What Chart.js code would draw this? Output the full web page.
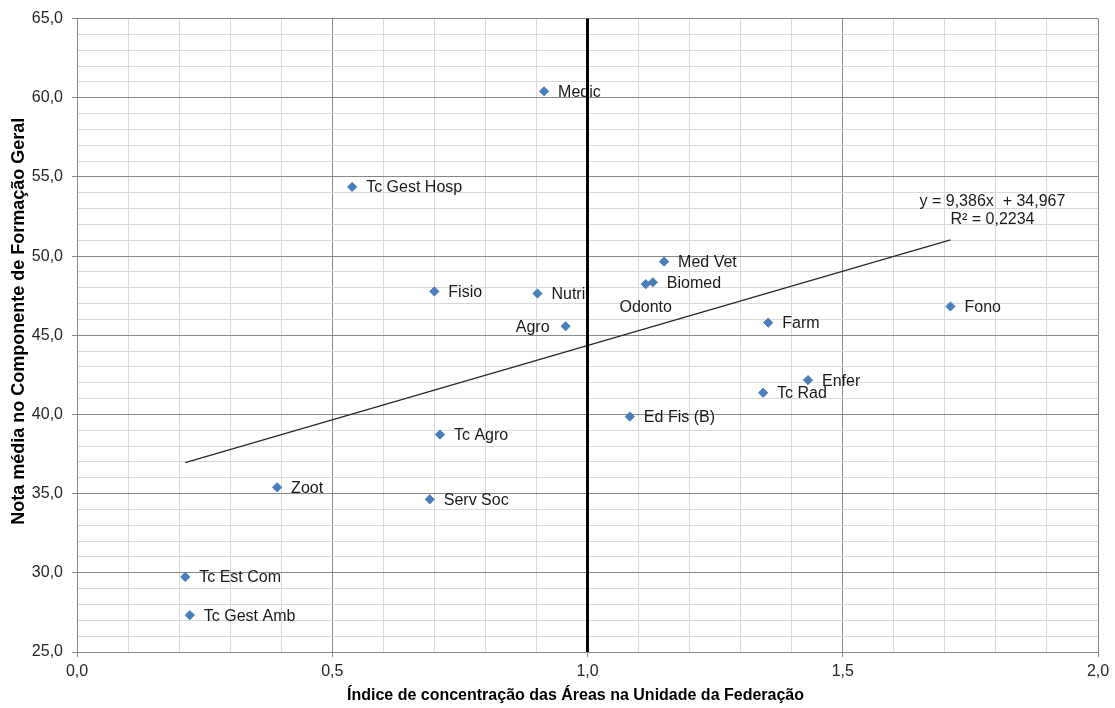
<!DOCTYPE html>
<html>
<head>
<meta charset="utf-8">
<script src="https://cdn.jsdelivr.net/npm/chart.js@4.4.1/dist/chart.umd.min.js"></script>
<style>
  html, body { margin: 0; padding: 0; background: #ffffff; }
  #wrap { width: 1115px; height: 708px; }
</style>
</head>
<body>
<div id="wrap"><canvas id="chart" width="1115" height="708"></canvas></div>
<script>
// Áreas avaliadas: índice de concentração na UF x nota média em Formação Geral
const areas = ['Medic', 'Tc Gest Hosp', 'Med Vet', 'Biomed', 'Odonto', 'Fisio', 'Nutri', 'Agro', 'Fono',
  'Farm', 'Enfer', 'Tc Rad', 'Ed Fis (B)', 'Tc Agro', 'Zoot', 'Serv Soc', 'Tc Est Com', 'Tc Gest Amb'];
const concentration = [0.915, 0.539, 1.150, 1.128, 1.114, 0.700, 0.902, 0.957, 1.711,
  1.354, 1.432, 1.344, 1.083, 0.711, 0.392, 0.691, 0.212, 0.221];
const meanScore = [60.41, 54.37, 49.65, 48.35, 48.23, 47.77, 47.64, 45.57, 46.82,
  45.80, 42.17, 41.37, 39.86, 38.73, 35.40, 34.64, 29.74, 27.33];

// Linear trend (least squares) as published with the chart
const trendSlope = 9.386;
const trendIntercept = 34.967;
const trendR2 = 0.2234;

// Reference index value (concentração = 1,0)
const referenceIndex = 1.0;

// Axis ranges and steps
const xRange = [0, 2];
const yRange = [25, 65];
const xMinorStep = 0.1, xMajorStep = 0.5;
const yMinorStep = 1, yMajorStep = 5;

const xTitle = 'Índice de concentração das Áreas na Unidade da Federação';
const yTitle = 'Nota média no Componente de Formação Geral';

// ---------------------------------------------------------------------
const FONT = "'Liberation Sans', Arial, sans-serif";
const MAJOR_GRID = '#878787';
const MINOR_GRID = '#d9d9d9';
const MARKER = '#4a7ebb';
const TEXT = '#1a1a1a';

const fmtComma = (v, d) => v.toFixed(d).replace('.', ',');
const isMultiple = (v, step) => Math.abs(v / step - Math.round(v / step)) < 1e-6;

const scatterPoints = areas.map((name, i) => ({ x: concentration[i], y: meanScore[i] }));
const trendX0 = Math.min(...concentration);
const trendX1 = Math.max(...concentration);
const trendPoints = [trendX0, trendX1].map(x => ({ x, y: trendSlope * x + trendIntercept }));
const referencePoints = [{ x: referenceIndex, y: yRange[0] }, { x: referenceIndex, y: yRange[1] }];

// where each label sits relative to its marker
const labelPlacement = { 'Agro': 'left', 'Odonto': 'below' };

const pointLabels = {
  id: 'pointLabels',
  afterDatasetDraw(chart, args) {
    if (args.index !== 0) return;
    const ctx = chart.ctx;
    const meta = chart.getDatasetMeta(0);
    ctx.save();
    ctx.font = '16px ' + FONT;
    ctx.fillStyle = TEXT;
    ctx.textBaseline = 'middle';
    meta.data.forEach((el, i) => {
      const name = areas[i];
      const place = labelPlacement[name] || 'right';
      if (place === 'left') {
        ctx.textAlign = 'right';
        ctx.fillText(name, el.x - 16, el.y + 1);
      } else if (place === 'below') {
        ctx.textAlign = 'center';
        ctx.fillText(name, el.x, el.y + 23);
      } else {
        ctx.textAlign = 'left';
        ctx.fillText(name, el.x + 14, el.y + 1);
      }
    });
    ctx.restore();
  }
};

const trendLabel = {
  id: 'trendLabel',
  afterDatasetsDraw(chart) {
    const { ctx, scales } = chart;
    const end = trendPoints[trendPoints.length - 1];
    const px = scales.x.getPixelForValue(end.x);
    const py = scales.y.getPixelForValue(end.y);
    ctx.save();
    ctx.font = '16px ' + FONT;
    ctx.fillStyle = TEXT;
    ctx.textAlign = 'center';
    ctx.textBaseline = 'middle';
    ctx.fillText('y = ' + fmtComma(trendSlope, 3) + 'x  + ' + fmtComma(trendIntercept, 3), px + 42, py - 38);
    ctx.fillText('R² = ' + fmtComma(trendR2, 4), px + 42, py - 20);
    ctx.restore();
  }
};

const axisTitles = {
  id: 'axisTitles',
  afterDraw(chart) {
    const { ctx, chartArea } = chart;
    ctx.save();
    ctx.fillStyle = '#000';
    ctx.textAlign = 'center';
    ctx.textBaseline = 'middle';
    ctx.font = 'bold 16px ' + FONT;
    ctx.fillText(xTitle, (chartArea.left + chartArea.right) / 2 - 12, 696);
    ctx.font = 'bold 18px ' + FONT;
    ctx.translate(19, (chartArea.top + chartArea.bottom) / 2 - 14);
    ctx.rotate(-Math.PI / 2);
    ctx.fillText(yTitle, 0, 0);
    ctx.restore();
  }
};

new Chart(document.getElementById('chart'), {
  type: 'scatter',
  data: {
    datasets: [
      {
        label: 'Áreas',
        data: scatterPoints,
        pointStyle: 'rectRot',
        pointRadius: 4.6,
        pointHoverRadius: 4.6,
        backgroundColor: MARKER,
        borderColor: MARKER,
        borderWidth: 1,
        order: 2
      },
      {
        type: 'line',
        label: 'Tendência',
        data: trendPoints,
        borderColor: '#262626',
        borderWidth: 1.2,
        pointRadius: 0,
        fill: false,
        order: 1
      },
      {
        type: 'line',
        label: 'Índice 1,0',
        data: referencePoints,
        borderColor: '#000000',
        borderWidth: 3,
        pointRadius: 0,
        fill: false,
        order: 0
      }
    ]
  },
  options: {
    responsive: false,
    animation: false,
    devicePixelRatio: 1,
    layout: { padding: { left: 0, top: 16, right: 17, bottom: 0 } },
    plugins: {
      legend: { display: false },
      tooltip: { enabled: false }
    },
    scales: {
      x: {
        type: 'linear',
        min: xRange[0],
        max: xRange[1],
        afterFit(scale) { scale.height = 56; },
        ticks: {
          stepSize: xMinorStep,
          autoSkip: false,
          maxRotation: 0,
          padding: 5,
          font: { family: FONT, size: 16 },
          color: '#262626',
          callback: v => isMultiple(v, xMajorStep) ? fmtComma(v, 1) : ''
        },
        grid: {
          color: c => isMultiple(c.tick.value, xMajorStep) ? MAJOR_GRID : MINOR_GRID,
          tickColor: c => isMultiple(c.tick.value, xMajorStep) ? MAJOR_GRID : 'rgba(0,0,0,0)',
          tickLength: 5,
          lineWidth: 1
        },
        border: { color: MAJOR_GRID, width: 1 }
      },
      y: {
        type: 'linear',
        min: yRange[0],
        max: yRange[1],
        afterFit(scale) { scale.width = 77; },
        ticks: {
          stepSize: yMinorStep,
          autoSkip: false,
          padding: 9,
          font: { family: FONT, size: 16 },
          color: '#262626',
          callback: v => isMultiple(v, yMajorStep) ? fmtComma(v, 1) : ''
        },
        grid: {
          color: c => isMultiple(c.tick.value, yMajorStep) ? MAJOR_GRID : MINOR_GRID,
          tickColor: c => isMultiple(c.tick.value, yMajorStep) ? MAJOR_GRID : 'rgba(0,0,0,0)',
          tickLength: 5,
          lineWidth: 1
        },
        border: { color: MAJOR_GRID, width: 1 }
      }
    }
  },
  plugins: [pointLabels, trendLabel, axisTitles]
});
</script>
</body>
</html>
